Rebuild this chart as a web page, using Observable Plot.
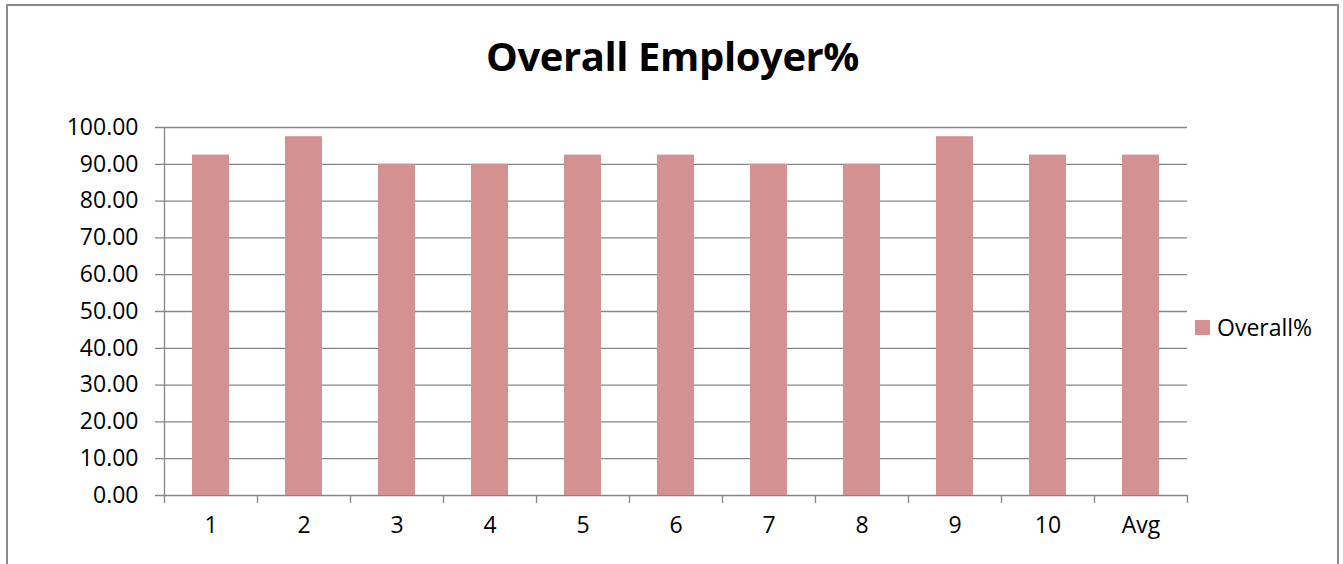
<!DOCTYPE html>
<html>
<head>
<meta charset="utf-8">
<script src="https://cdn.jsdelivr.net/npm/d3@7"></script>
<script src="https://cdn.jsdelivr.net/npm/@observablehq/plot@0.6"></script>
<style>
  html, body { margin: 0; padding: 0; background: #fff; }
  #wrap { position: relative; width: 1343px; height: 564px; overflow: hidden; font-family: "Open Sans", sans-serif; }
  #border { position: absolute; left: 6px; top: 4px; width: 1333px; height: 600px; border: 2px solid #8a8a8a; box-sizing: border-box; }
  #title { position: absolute; left: 0; width: 1345px; top: 36px; text-align: center; font-weight: bold; font-size: 40px; line-height: 40px; color: #000; white-space: nowrap; }
  #title span { display: inline-block; }
  #legend { position: absolute; left: 1195px; top: 312px; height: 30px; display: flex; align-items: center; font-size: 23px; color: #000; }
  #legend .sw { width: 15px; height: 15px; margin-right: 7px; }
  #chart { position: absolute; left: 0; top: 0; }
</style>
</head>
<body>
<div id="wrap">
  <div id="border"></div>
  <div id="chart"></div>
  <div id="title"><span id="titleText"></span></div>
  <div id="legend"><div class="sw" id="sw"></div><span id="legText"></span></div>
</div>
<script>
const chartTitle = "Overall Employer%";
const seriesName = "Overall%";
const categories = ["1", "2", "3", "4", "5", "6", "7", "8", "9", "10", "Avg"];
const values = [92.5, 97.5, 90, 90, 92.5, 92.5, 90, 90, 97.5, 92.5, 92.5];
const yTicks = [0, 10, 20, 30, 40, 50, 60, 70, 80, 90, 100];
const barColor = "#D39291";
const gridColor = "#868686";

const data = categories.map((c, i) => ({cat: c, value: values[i]}));

const W = 1343, H = 564, mL = 164, mR = 156, mT = 127, mB = 69;
const plotH = H - mT - mB;
const step = (W - mL - mR) / categories.length;

const chart = Plot.plot({
  width: W, height: H,
  marginLeft: mL, marginRight: mR, marginTop: mT, marginBottom: mB,
  style: {fontFamily: "Open Sans, sans-serif", fontSize: "23px", color: "#000", background: "transparent", overflow: "visible"},
  x: {domain: categories, paddingInner: 0.6, paddingOuter: 0.3, axis: null},
  y: {domain: [0, 100], axis: null},
  marks: [
    Plot.ruleY(yTicks, {y: d => d, stroke: gridColor, strokeWidth: 1.3, insetLeft: -9}),
    Plot.barY(data, {x: "cat", y: "value", fill: barColor}),
    Plot.ruleX([categories[0]], {x: d => d, dx: -step / 2, stroke: gridColor, strokeWidth: 1.3, insetBottom: -8}),
    Plot.ruleX(categories.slice(1), {x: d => d, dx: -step / 2, stroke: gridColor, strokeWidth: 1.3, insetTop: plotH, insetBottom: -8}),
    Plot.ruleX([categories[categories.length - 1]], {x: d => d, dx: step / 2, stroke: gridColor, strokeWidth: 1.3, insetTop: plotH, insetBottom: -8}),
    Plot.text(yTicks, {y: d => d, text: d => d.toFixed(2), frameAnchor: "left", textAnchor: "end", dx: -26, fill: "#000"}),
    Plot.text(categories, {x: d => d, text: d => d, frameAnchor: "bottom", dy: 37, fill: "#000"})
  ]
});
document.getElementById("chart").appendChild(chart);

const tt = document.getElementById("titleText");
tt.textContent = chartTitle;
const target = 373;
const w0 = tt.getBoundingClientRect().width;
tt.style.letterSpacing = ((target - w0) / chartTitle.length) + "px";

document.getElementById("sw").style.background = barColor;
document.getElementById("legText").textContent = seriesName;
</script>
</body>
</html>
